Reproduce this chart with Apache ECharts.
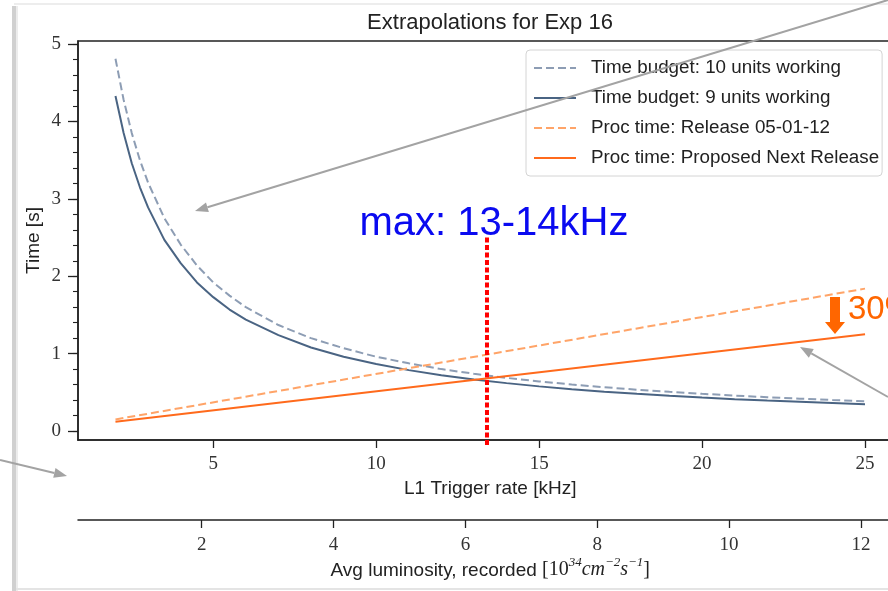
<!DOCTYPE html>
<html><head><meta charset="utf-8">
<script src="https://cdn.jsdelivr.net/npm/echarts@6/dist/echarts.min.js"></script>
<style>html,body{margin:0;padding:0;overflow:hidden;background:#fff}#c{width:910px;height:591px}</style>
</head><body><div id="c"></div><script>
// ---- data ----
const rates = [2,2.25,2.5,2.75,3,3.5,4,4.5,5,5.5,6,7,8,9,10,11,12,13,14,15,16,17,18,19,20,21,22,23,24,25];
const budget10 = [4.81,4.28,3.85,3.50,3.21,2.75,2.41,2.14,1.92,1.75,1.60,1.37,1.20,1.07,0.96,0.875,0.80,0.74,0.687,0.641,0.601,0.566,0.534,0.506,0.481,0.458,0.437,0.418,0.401,0.385];
const budget9  = [4.33,3.85,3.46,3.15,2.89,2.47,2.17,1.92,1.73,1.57,1.44,1.24,1.08,0.96,0.866,0.787,0.722,0.666,0.619,0.577,0.541,0.509,0.481,0.456,0.433,0.412,0.394,0.377,0.361,0.346];
const procRates = [2, 25];
const procOld = [0.15, 1.84];
const procNew = [0.12, 1.25];
const maxRate = 13.4;
const maxLineTime = [2.5, -0.18];
const rateTicks = [5,10,15,20,25];
const lumiTicks = [2,4,6,8,10,12];
const timeTicks = [0,1,2,3,4,5];
const timeMinorTicks = [0,0.2,0.4,0.6,0.8,1,1.2,1.4,1.6,1.8,2,2.2,2.4,2.6,2.8,3,3.2,3.4,3.6,3.8,4,4.2,4.4,4.6,4.8,5];
const names = ['Time budget: 10 units working','Time budget: 9 units working','Proc time: Release 05-01-12','Proc time: Proposed Next Release'];

const SANS = 'Liberation Sans', SERIF = 'Liberation Serif';
const pair = (xs, ys) => xs.map((x, i) => [x, ys[i]]);

function arrow(x1, y1, x2, y2, color, w, hl, hw) {
  const dx = x2 - x1, dy = y2 - y1, L = Math.hypot(dx, dy);
  const ux = dx / L, uy = dy / L, nx = -uy, ny = ux;
  const bx = x2 - ux * hl, by = y2 - uy * hl;
  return [
    {type:'line', z:100, shape:{x1, y1, x2:bx, y2:by}, style:{stroke:color, lineWidth:w}},
    {type:'polygon', z:100, shape:{points:[[x2,y2],[bx+nx*hw,by+ny*hw],[bx-nx*hw,by-ny*hw]]}, style:{fill:color}}
  ];
}

const axisCol = '#222';
const lineSeries = (name, xs, ys, color, dashed) => ({
  name, type:'line', data:pair(xs, ys), symbol:'emptyCircle', showSymbol:false, z:3,
  lineStyle:{color, width:2, type: dashed ? [8,4] : 'solid'}, itemStyle:{color}
});

const chart = echarts.init(document.getElementById('c'), null, {renderer:'canvas'});
chart.setOption({
  backgroundColor:'#fff',
  animation:false,
  grid:{left:78, top:41, right:7.5, bottom:151, show:true, borderColor:axisCol, borderWidth:1.5, backgroundColor:'transparent'},
  legend:{
    data:names, orient:'vertical', left:526, top:50,
    padding:[7,3,7,7], itemWidth:42, itemHeight:14, itemGap:8,
    itemStyle:{opacity:0, color:'transparent', borderWidth:0},
    backgroundColor:'rgba(255,255,255,0.8)', borderColor:'#d4d4d4', borderWidth:1, borderRadius:4,
    textStyle:{fontFamily:SANS, fontSize:18.8, color:'#222', lineHeight:22, padding:[0,0,0,10]}
  },
  xAxis:[
    {type:'value', min:0.85, max:26.15, position:'bottom',
     axisLine:{show:true, onZero:false, lineStyle:{color:axisCol, width:1.5}},
     axisTick:{show:true, length:8, customValues:rateTicks, lineStyle:{color:axisCol, width:1.3}},
     axisLabel:{customValues:rateTicks, fontFamily:SERIF, fontSize:19, color:'#333', margin:15},
     splitLine:{show:false},
     name:'L1 Trigger rate [kHz]', nameLocation:'middle', nameGap:39, nameMoveOverlap:false,
     nameTextStyle:{fontFamily:SANS, fontSize:19, color:'#222'}},
    {type:'value', min:0.123, max:12.63, position:'bottom', offset:80,
     axisLine:{show:true, onZero:false, lineStyle:{color:axisCol, width:1.5}},
     axisTick:{show:true, length:8, customValues:lumiTicks, lineStyle:{color:axisCol, width:1.3}},
     axisLabel:{customValues:lumiTicks, fontFamily:SERIF, fontSize:19, color:'#333', margin:16},
     splitLine:{show:false},
     name:'{s|Avg luminosity, recorded }{m|[10}{sup|34}{i|cm}{sup|−2}{i|s}{sup|−1}{m|]}',
     nameLocation:'middle', nameGap:36, nameMoveOverlap:false,
     nameTextStyle:{fontFamily:SANS, fontSize:19, color:'#222', lineHeight:24,
       rich:{
         s:{fontFamily:SANS, fontSize:19, color:'#222', lineHeight:24, verticalAlign:'bottom'},
         m:{fontFamily:SERIF, fontSize:20, color:'#222', lineHeight:24, verticalAlign:'bottom'},
         i:{fontFamily:SERIF, fontStyle:'italic', fontSize:20, color:'#222', lineHeight:24, verticalAlign:'bottom'},
         sup:{fontFamily:SERIF, fontStyle:'italic', fontSize:13, color:'#222', lineHeight:24, verticalAlign:'top'}
       }}}
  ],
  yAxis:[
    {type:'value', min:-0.116, max:5.04, position:'left',
     axisLine:{show:true, onZero:false, lineStyle:{color:axisCol, width:1.5}},
     axisTick:{show:true, length:10, customValues:timeTicks, lineStyle:{color:axisCol, width:1.3}},
     axisLabel:{customValues:timeTicks, fontFamily:SERIF, fontSize:19, color:'#333', margin:17},
     splitLine:{show:false},
     name:'Time [s]', nameLocation:'middle', nameGap:35, nameRotate:90, nameMoveOverlap:false,
     nameTextStyle:{fontFamily:SANS, fontSize:19, color:'#222'}},
    {type:'value', min:-0.116, max:5.04, position:'left',
     axisLine:{show:false},
     axisTick:{show:true, length:5, customValues:timeMinorTicks, lineStyle:{color:axisCol, width:1.1}},
     axisLabel:{show:false}, splitLine:{show:false}}
  ],
  series:[
    lineSeries(names[0], rates, budget10, '#8d9db4', true),
    lineSeries(names[1], rates, budget9, '#4a6483', false),
    lineSeries(names[2], procRates, procOld, '#ffa468', true),
    lineSeries(names[3], procRates, procNew, '#ff6a1c', false),
    {name:'max', type:'line', data:[[maxRate, maxLineTime[0]],[maxRate, maxLineTime[1]]], symbol:'none', clip:false,
     lineStyle:{color:'#ff0000', width:4, type:[5,2.5], cap:'butt'}, z:10, silent:true}
  ],
  graphic:[
    {type:'rect', z:90, shape:{x:12, y:6, width:4, height:585}, style:{fill:'#d0d0d0'}},
    {type:'rect', z:90, shape:{x:16, y:6, width:2, height:585}, style:{fill:'#ececec'}},
    {type:'rect', z:90, shape:{x:14, y:3, width:900, height:2}, style:{fill:'#ededed'}},
    {type:'rect', z:90, shape:{x:16, y:588, width:900, height:2}, style:{fill:'#e4e4e4'}},
    {type:'text', z:50, x:490, y:23, style:{text:'Extrapolations for Exp 16', fontFamily:SANS, fontSize:22, fill:'#222', align:'center', verticalAlign:'middle'}},
    {type:'text', z:60, x:494, y:224, style:{text:'max: 13-14kHz', fontFamily:SANS, fontSize:40, fill:'#0a0af0', align:'center', verticalAlign:'middle'}},
    {type:'text', z:60, x:848, y:310, style:{text:'30%', fontFamily:SANS, fontSize:33, fill:'#ff6600', align:'left', verticalAlign:'middle'}},
    {type:'polygon', z:60, shape:{points:[[830,297],[840,297],[840,322],[845,322],[835,334],[825,322],[830,322]]}, style:{fill:'#ff6600'}},
    ...arrow(888, 0, 195, 211, '#a3a3a3', 2, 13, 5),
    ...arrow(888, 397, 800, 347, '#a3a3a3', 2, 13, 5),
    ...arrow(0, 460, 67, 476, '#a3a3a3', 2, 13, 5)
  ]
});
</script></body></html>
